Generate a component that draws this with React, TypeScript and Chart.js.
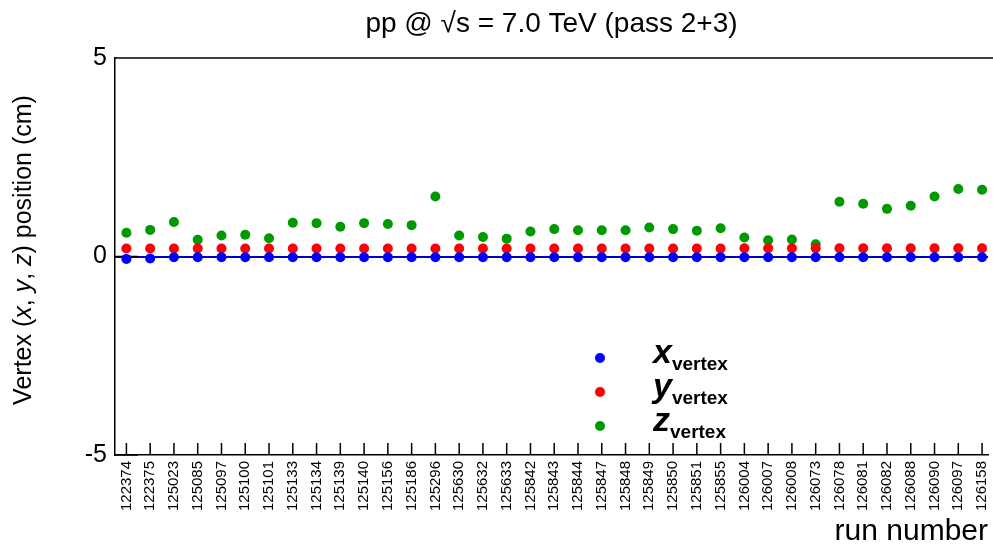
import React, { useEffect, useRef } from 'react';
import { Chart, registerables } from 'chart.js';

Chart.register(...registerables);

const categories = [
  '122374', '122375', '125023', '125085', '125097', '125100', '125101', '125133', '125134', '125139',
  '125140', '125156', '125186', '125296', '125630', '125632', '125633', '125842', '125843', '125844',
  '125847', '125848', '125849', '125850', '125851', '125855', '126004', '126007', '126008', '126073',
  '126078', '126081', '126082', '126088', '126090', '126097', '126158',
];

const xVertex = [
  -0.06, -0.05, -0.02, -0.02, -0.02, -0.02, -0.02, -0.02, -0.02, -0.02,
  -0.02, -0.02, -0.02, -0.02, -0.02, -0.02, -0.02, -0.02, -0.02, -0.02,
  -0.02, -0.02, -0.02, -0.02, -0.02, -0.02, -0.02, -0.02, -0.02, -0.02,
  -0.02, -0.02, -0.02, -0.02, -0.02, -0.02, -0.02,
];

const yVertex = [
  0.2, 0.2, 0.2, 0.2, 0.2, 0.2, 0.2, 0.2, 0.2, 0.2,
  0.2, 0.2, 0.2, 0.2, 0.2, 0.2, 0.2, 0.2, 0.2, 0.2,
  0.2, 0.2, 0.2, 0.2, 0.2, 0.2, 0.21, 0.21, 0.21, 0.21,
  0.21, 0.21, 0.21, 0.21, 0.21, 0.21, 0.21,
];

const zVertex = [
  0.60, 0.67, 0.87, 0.42, 0.53, 0.55, 0.46, 0.85, 0.84, 0.75,
  0.84, 0.82, 0.79, 1.51, 0.53, 0.49, 0.45, 0.63, 0.69, 0.66,
  0.66, 0.66, 0.73, 0.69, 0.65, 0.71, 0.48, 0.41, 0.43, 0.31,
  1.38, 1.33, 1.20, 1.28, 1.51, 1.70, 1.68,
];

const yTickValues = [-5, 0, 5];
const legendLetters = ['x', 'y', 'z'];
const legendSub = 'vertex';
const titleText = 'pp @ \u221As = 7.0 TeV (pass 2+3)';
const xTitleText = 'run number';
const yTitleParts: [string, boolean][] = [
  ['Vertex (', false], ['x', true], [', ', false], ['y', true], [', ', false], ['z', true], [') position (cm)', false],
];

const FONT = '"Liberation Sans", Arial, Helvetica, sans-serif';
const W = 993;
const H = 550;

const frameTicks = {
  id: 'frameTicks',
  beforeDatasetsDraw(chart: any) {
    const { ctx, chartArea } = chart;
    const xs = chart.scales.x;
    const ys = chart.scales.y;
    ctx.save();
    ctx.strokeStyle = '#000';
    ctx.lineWidth = 1.5;
    ctx.beginPath();
    ys.ticks.forEach((t: any) => {
      const py = ys.getPixelForValue(t.value);
      ctx.moveTo(chartArea.left, py);
      ctx.lineTo(chartArea.left + 23, py);
    });
    xs.ticks.forEach((t: any) => {
      const px = xs.getPixelForValue(t.value);
      ctx.moveTo(px, chartArea.bottom);
      ctx.lineTo(px, chartArea.bottom - 12);
    });
    ctx.moveTo(chartArea.left, chartArea.top);
    ctx.lineTo(chart.width, chartArea.top);
    ctx.stroke();
    ctx.restore();
  },
};

const textDecor = {
  id: 'textDecor',
  afterDraw(chart: any) {
    const { ctx } = chart;
    ctx.save();
    // Y axis title with italic variables
    ctx.translate(31, 250);
    ctx.rotate(-Math.PI / 2);
    ctx.fillStyle = '#000';
    ctx.textBaseline = 'alphabetic';
    ctx.textAlign = 'left';
    let total = 0;
    yTitleParts.forEach(([s, it]) => {
      ctx.font = `${it ? 'italic ' : ''}25px ${FONT}`;
      total += ctx.measureText(s).width;
    });
    let pos = -total / 2;
    yTitleParts.forEach(([s, it]) => {
      ctx.font = `${it ? 'italic ' : ''}25px ${FONT}`;
      ctx.fillText(s, pos, 0);
      pos += ctx.measureText(s).width;
    });
    ctx.restore();

    // Legend
    ctx.save();
    chart.data.datasets.forEach((ds: any, i: number) => {
      const my = 358 + i * 34;
      const mx = 600;
      ctx.beginPath();
      ctx.arc(mx, my, 5, 0, Math.PI * 2);
      ctx.fillStyle = ds.backgroundColor;
      ctx.fill();
      ctx.fillStyle = '#000';
      ctx.textAlign = 'left';
      ctx.textBaseline = 'alphabetic';
      ctx.font = `italic bold 34px ${FONT}`;
      const letter = legendLetters[i];
      ctx.fillText(letter, 653, my + 5);
      const w = ctx.measureText(letter).width;
      ctx.font = `bold 19px ${FONT}`;
      ctx.fillText(legendSub, 653 + w, my + 12);
    });
    ctx.restore();
  },
};

export default function App() {
  const ref = useRef<HTMLCanvasElement | null>(null);

  useEffect(() => {
    document.body.style.margin = '0';
    document.documentElement.style.overflow = 'hidden';
    const canvas = ref.current;
    if (!canvas) return;
    const toPts = (arr: number[]) => arr.map((v, i) => ({ x: i, y: v }));
    const chart = new Chart(canvas, {
      type: 'scatter',
      data: {
        datasets: [
          { label: 'x', data: toPts(xVertex), backgroundColor: '#0000ff', borderColor: '#0000ff', pointRadius: 5, pointBorderWidth: 0, pointHoverRadius: 5 },
          { label: 'y', data: toPts(yVertex), backgroundColor: '#ff0000', borderColor: '#ff0000', pointRadius: 5, pointBorderWidth: 0, pointHoverRadius: 5 },
          { label: 'z', data: toPts(zVertex), backgroundColor: '#009a00', borderColor: '#009a00', pointRadius: 5, pointBorderWidth: 0, pointHoverRadius: 5 },
        ],
      },
      options: {
        responsive: false,
        animation: false,
        events: [],
        layout: { padding: { left: 0, right: 0, top: 0, bottom: 0 } },
        plugins: {
          legend: { display: false },
          tooltip: { enabled: false },
          title: {
            display: true,
            fullSize: false,
            text: titleText,
            color: '#000',
            font: { family: FONT, size: 28, weight: 'normal' },
            padding: { top: 7, bottom: 17.4 },
          },
        },
        scales: {
          x: {
            type: 'linear',
            min: -0.48,
            max: 36.25,
            afterBuildTicks: (scale: any) => {
              scale.ticks = categories.map((_, i) => ({ value: i }));
            },
            afterFit: (scale: any) => {
              scale.height = H - 455;
              scale.paddingLeft = 0;
              scale.paddingRight = 0;
            },
            grid: { display: true, drawOnChartArea: false, drawTicks: false },
            border: { display: true, color: '#000', width: 1.5 },
            ticks: {
              autoSkip: false,
              minRotation: 90,
              maxRotation: 90,
              padding: 6,
              color: '#000',
              font: { family: FONT, size: 15 },
              callback: (v: any) => categories[Math.round(Number(v))] ?? '',
            },
            title: {
              display: true,
              text: xTitleText,
              align: 'end',
              color: '#000',
              font: { family: FONT, size: 30 },
              padding: { top: 0, bottom: 0 },
            },
          },
          y: {
            type: 'linear',
            min: -5,
            max: 5,
            afterBuildTicks: (scale: any) => {
              scale.ticks = yTickValues.map((v) => ({ value: v }));
            },
            afterFit: (scale: any) => {
              scale.width = 115;
            },
            grid: {
              drawTicks: false,
              color: (c: any) => (c.tick && c.tick.value === 0 ? '#0000cc' : 'rgba(0,0,0,0)'),
              lineWidth: 2,
            },
            border: { display: true, color: '#000', width: 1.5 },
            ticks: {
              padding: 8,
              color: '#000',
              font: { family: FONT, size: 25 },
              callback: (v: any) => String(v),
            },
          },
        },
      },
      plugins: [frameTicks, textDecor],
    });
    return () => chart.destroy();
  }, []);

  return (
    <div style={{ width: W, height: H, overflow: 'hidden' }}>
      <canvas ref={ref} width={W} height={H} style={{ display: 'block' }} />
    </div>
  );
}
